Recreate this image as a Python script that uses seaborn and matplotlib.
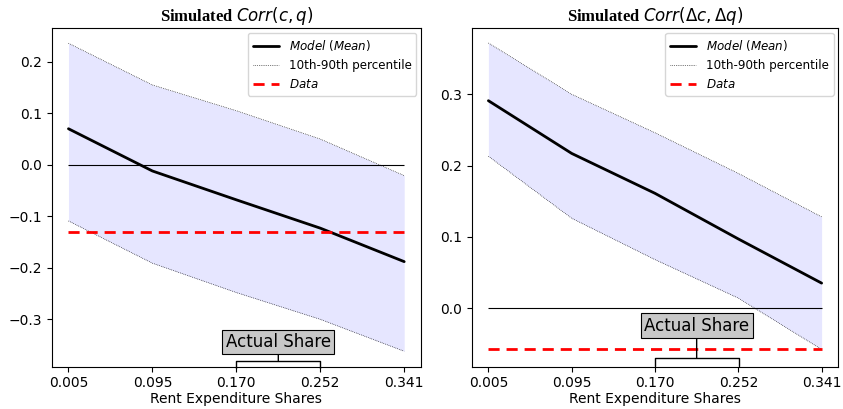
import numpy as np
import pandas as pd
import matplotlib
matplotlib.use("Agg")
import matplotlib.pyplot as plt
import seaborn as sns

# ---- data ----
share_labels = ["0.005", "0.095", "0.170", "0.252", "0.341"]

left_mean = [0.070, -0.012, -0.068, -0.123, -0.188]
left_p90 = [0.236, 0.155, 0.105, 0.050, -0.021]
left_p10 = [-0.109, -0.191, -0.248, -0.300, -0.362]
left_data = -0.130

right_mean = [0.291, 0.217, 0.161, 0.097, 0.035]
right_p90 = [0.372, 0.300, 0.246, 0.189, 0.128]
right_p10 = [0.213, 0.126, 0.068, 0.014, -0.058]
right_data = -0.058

sns.set_style("ticks")
plt.rcParams["font.family"] = ["DejaVu Sans"]
plt.rcParams["mathtext.fontset"] = "dejavusans"
for k in ["text.color", "axes.labelcolor", "xtick.color", "ytick.color", "axes.edgecolor"]:
    plt.rcParams[k] = "black"
plt.rcParams["axes.linewidth"] = 0.8

fig = plt.figure(figsize=(8.43, 4.09), dpi=100)
ax1 = fig.add_axes([0.0613, 0.1034, 0.4381, 0.8274])
ax2 = fig.add_axes([0.5596, 0.1034, 0.4348, 0.8274])

pos = np.arange(len(share_labels))


def panel(ax, mean, p90, p10, data_val, title, ylim, yticks, ann_bracket, ann_text):
    df = pd.DataFrame({"x": pos, "mean": mean, "p90": p90, "p10": p10})
    ax.fill_between(df["x"], df["p10"], df["p90"], color=(0.9, 0.9, 1.0), lw=0)
    sns.lineplot(data=df, x="x", y="mean", ax=ax, color="black", lw=2,
                 label=r"$Model$ $(Mean)$")
    sns.lineplot(data=df, x="x", y="p90", ax=ax, color="black", lw=0.5,
                 linestyle=":", label="10th-90th percentile")
    sns.lineplot(data=df, x="x", y="p10", ax=ax, color="black", lw=0.5,
                 linestyle=":", label="_nolegend_")
    ax.hlines(0, pos[0], pos[-1], color="black", lw=0.8, zorder=1.5)
    ax.hlines(data_val, pos[0], pos[-1], color="red", lw=2, linestyles=(0, (4, 2.5)),
              label=r"$Data$", zorder=3)
    ax.set_xticks(pos)
    ax.set_xticklabels(share_labels)
    ax.set_xlim(pos[0] - 0.2, pos[-1] + 0.2)
    ax.set_ylim(*ylim)
    ax.set_yticks(yticks)
    ax.set_xlabel("Rent Expenditure Shares", fontsize=10, labelpad=1)
    ax.set_ylabel("")
    ax.tick_params(labelsize=10, length=3.5, width=0.8)
    ax.set_title(title, fontfamily="Liberation Serif", fontweight="bold", fontsize=12, pad=5)
    ax.legend(loc="upper right", fontsize=8.6, frameon=True, handlelength=2.2,
              borderaxespad=0.4)
    xm = (pos[2] + pos[3]) / 2
    ax.annotate("Actual Share", xy=(xm, ann_bracket), xytext=(xm, ann_text),
                xycoords=("data", "axes fraction"), textcoords=("data", "axes fraction"),
                ha="center", va="center", fontsize=12,
                bbox=dict(boxstyle="square,pad=0.2", fc="#c8c8c8", ec="black", lw=0.8),
                arrowprops=dict(arrowstyle="-[, widthB=2.52, lengthB=0.45",
                                lw=1, color="black", shrinkA=0, shrinkB=0))


panel(ax1, left_mean, left_p90, left_p10, left_data, r"Simulated $Corr(c, q)$",
      (-0.392, 0.265), [0.2, 0.1, 0.0, -0.1, -0.2, -0.3], 0.0177, 0.073)
panel(ax2, right_mean, right_p90, right_p10, right_data, r"Simulated $Corr(\Delta c, \Delta q)$",
      (-0.0823, 0.3926), [0.3, 0.2, 0.1, 0.0], 0.0257, 0.1217)

fig.savefig("out.png", dpi=100)
